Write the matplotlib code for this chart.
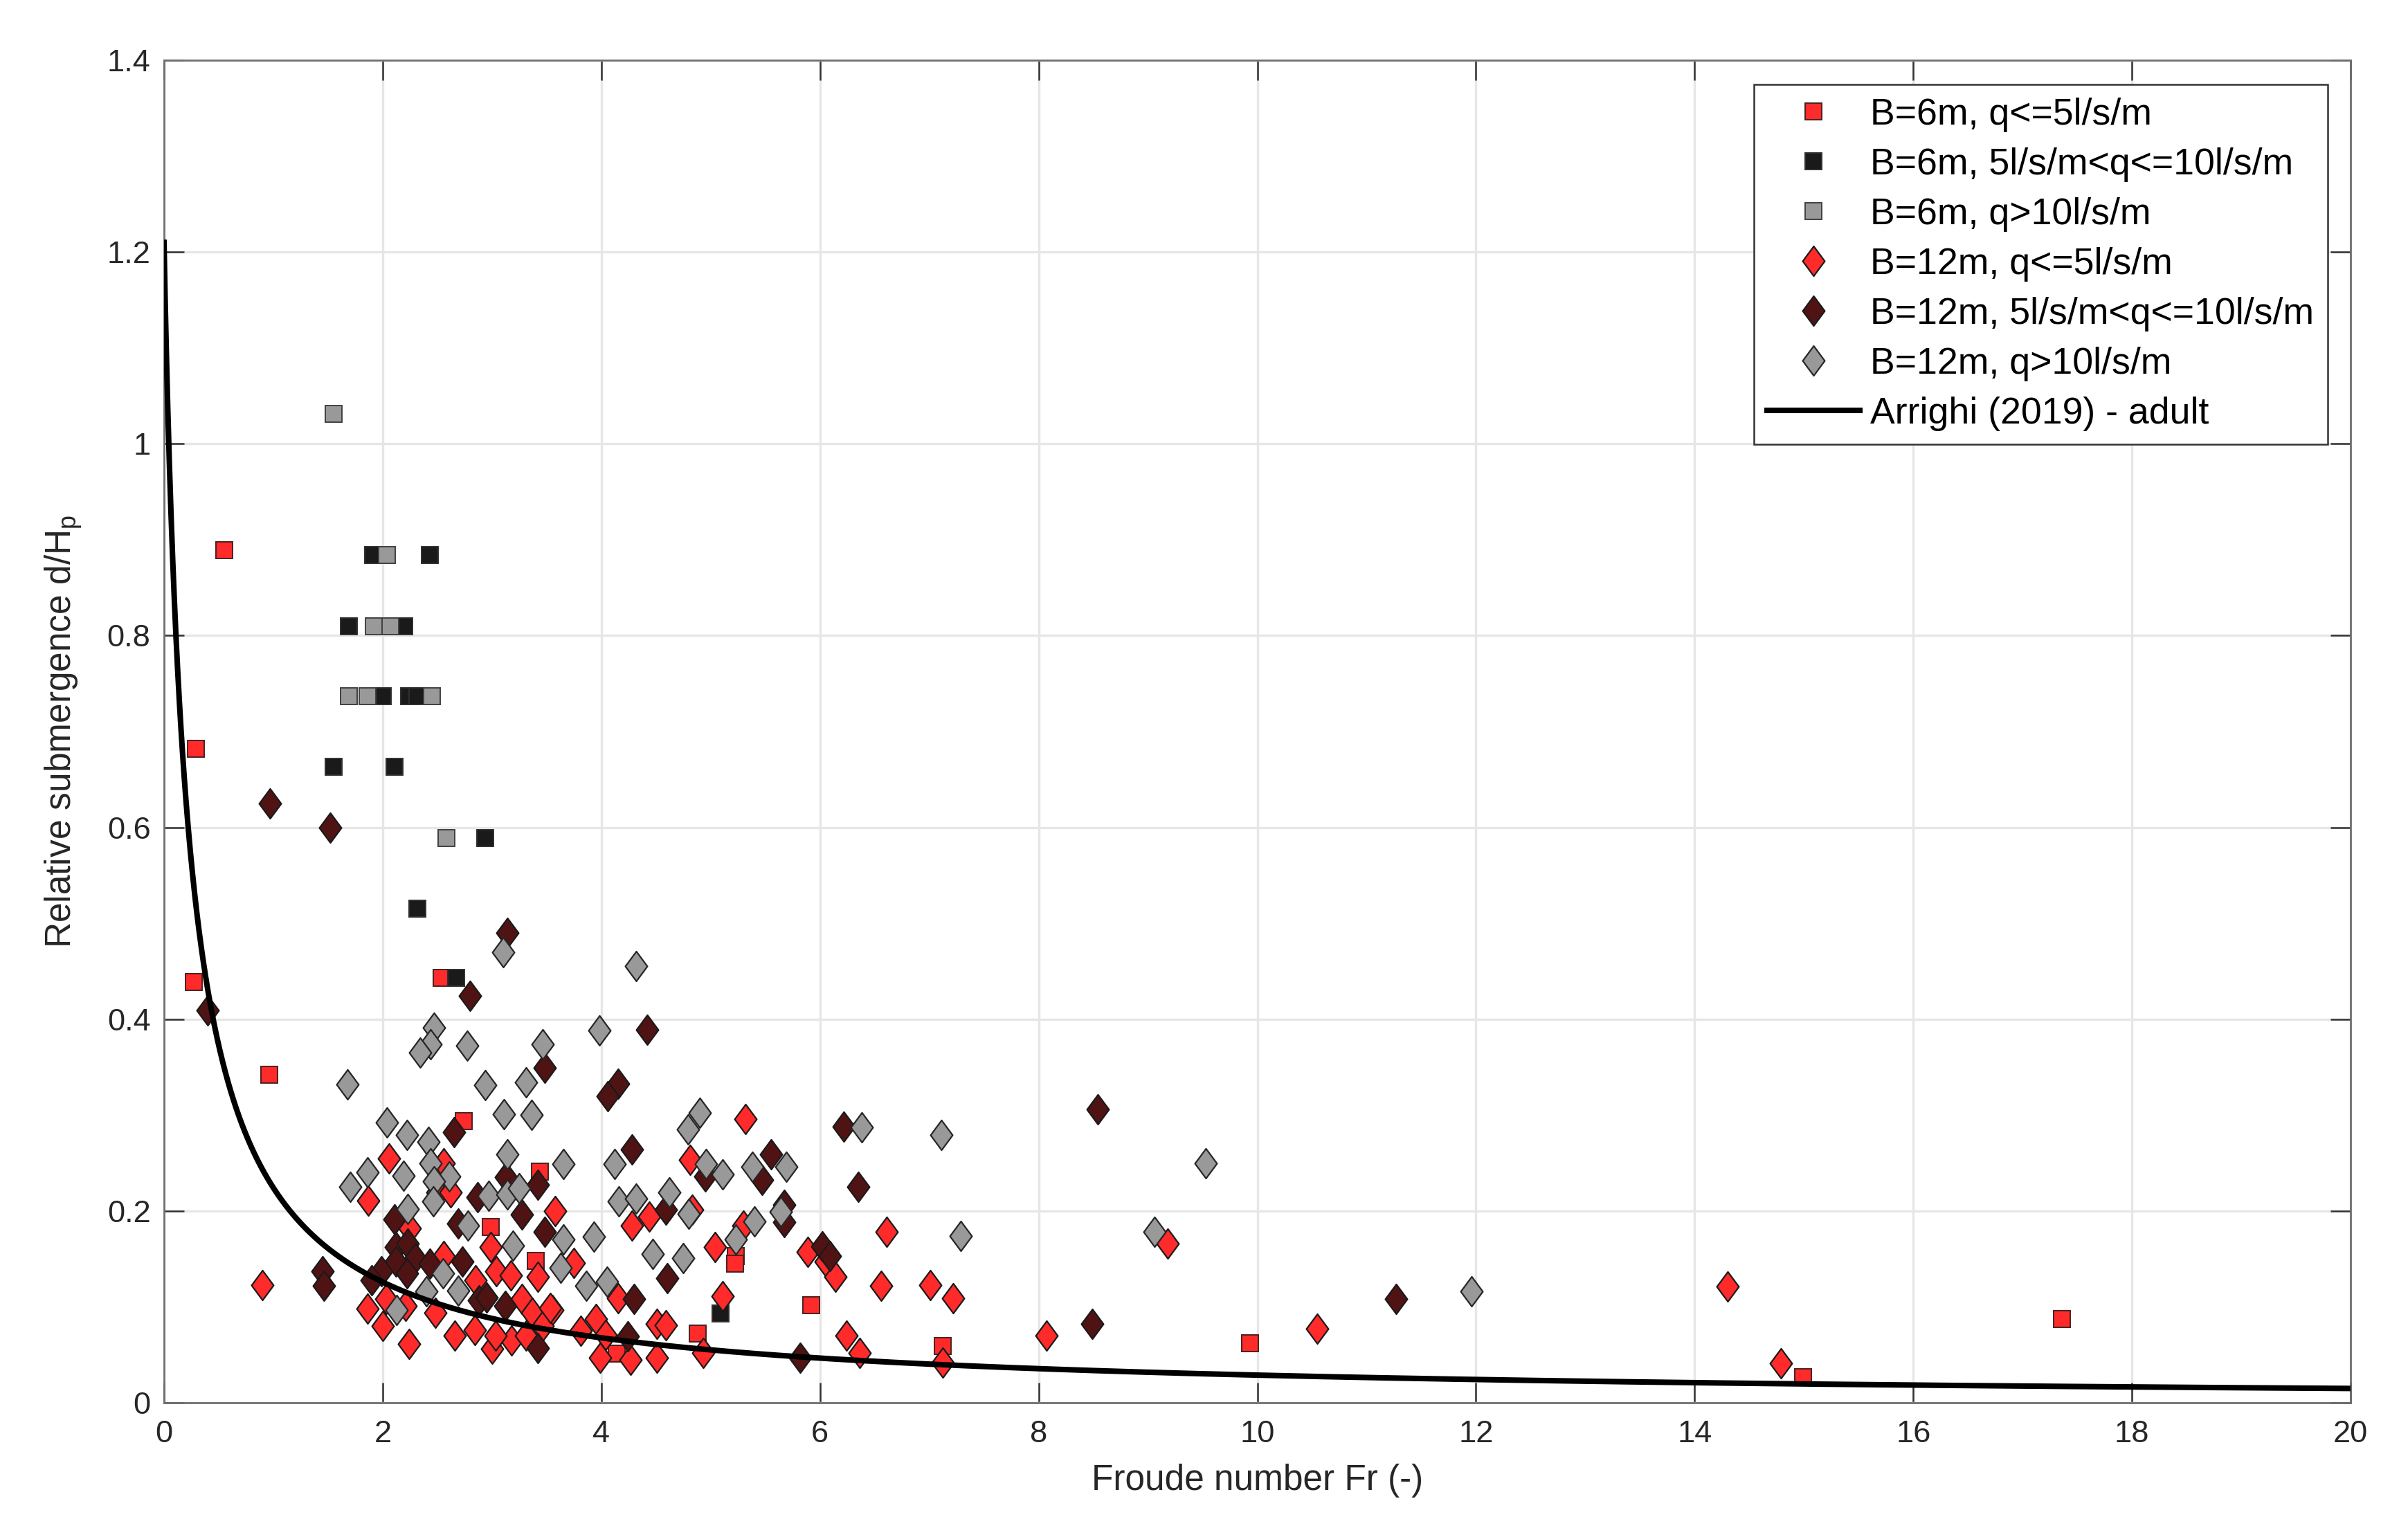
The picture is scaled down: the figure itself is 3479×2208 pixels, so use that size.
import numpy as np
import matplotlib
matplotlib.use('Agg')
import matplotlib.pyplot as plt
from matplotlib.path import Path

plt.rcParams['font.family'] = ['Liberation Sans', 'DejaVu Sans']
plt.rcParams['mathtext.default'] = 'regular'

# ---------------- data (Froude number, relative submergence) ----------------
b6_low_fr = [0.27, 0.29, 0.55, 0.96, 2.54, 2.74, 3.44, 2.99, 3.40, 5.23, 5.22, 4.14,
             4.88, 5.92, 7.12, 9.93, 14.99, 17.36]
b6_low_d = [0.439, 0.682, 0.889, 0.342, 0.443, 0.294, 0.241, 0.183, 0.148, 0.153, 0.145, 0.051,
            0.072, 0.102, 0.059, 0.062, 0.027, 0.087]

b6_mid_fr = [1.91, 2.43, 1.69, 2.20, 2.00, 2.24, 2.32, 1.55, 2.11, 2.94, 2.32, 2.67, 5.09]
b6_mid_d = [0.884, 0.884, 0.810, 0.810, 0.737, 0.737, 0.737, 0.663, 0.663, 0.589, 0.515, 0.443, 0.093]

b6_high_fr = [1.55, 2.04, 1.92, 2.07, 1.69, 1.86, 2.45, 2.58]
b6_high_d = [1.031, 0.884, 0.810, 0.810, 0.737, 0.737, 0.737, 0.589]

b12_low_fr = [0.90, 1.87, 2.06, 2.56, 2.50, 2.62, 2.25, 2.56, 2.85, 2.03, 1.86, 2.21, 2.48,
              2.00, 2.24, 2.66, 2.84, 3.27, 3.37, 3.00, 3.18, 3.03, 3.31, 2.99, 3.04, 3.17,
              3.42, 3.58, 4.28, 4.44, 4.83, 5.30, 4.81, 5.32, 3.75, 3.55, 4.15, 5.04, 5.11,
              3.81, 3.95, 4.04, 4.51, 4.59, 3.99, 4.27, 4.51, 4.93, 3.46, 3.53, 6.61, 5.89,
              6.05, 6.14, 6.56, 7.01, 7.22, 6.24, 6.36, 7.12, 8.07, 9.18, 10.55, 14.30, 14.79]
b12_low_d = [0.123, 0.211, 0.255, 0.250, 0.219, 0.219, 0.182, 0.153, 0.128, 0.108, 0.098, 0.101, 0.094,
             0.080, 0.061, 0.070, 0.076, 0.108, 0.094, 0.056, 0.065, 0.070, 0.070, 0.162, 0.137, 0.133,
             0.131, 0.200, 0.185, 0.194, 0.201, 0.185, 0.253, 0.296, 0.146, 0.097, 0.109, 0.162, 0.111,
             0.075, 0.087, 0.071, 0.082, 0.081, 0.047, 0.045, 0.047, 0.052, 0.080, 0.099, 0.178, 0.157,
             0.147, 0.131, 0.122, 0.123, 0.109, 0.070, 0.052, 0.042, 0.070, 0.166, 0.077, 0.121, 0.041]

b12_mid_fr = [0.40, 0.97, 1.52, 1.45, 1.46, 3.14, 2.80, 4.42, 3.48, 4.15, 4.06, 2.65, 4.28,
              3.42, 3.13, 2.87, 3.27, 2.11, 2.69, 3.48, 4.59, 4.95, 5.55, 5.47, 5.67, 5.67,
              2.12, 2.23, 2.30, 2.12, 2.22, 1.99, 1.90, 2.43, 2.73, 2.88, 2.95, 3.12, 3.42,
              4.60, 4.30, 4.24, 6.22, 6.35, 6.02, 6.09, 5.82, 8.49, 8.54, 11.27]
b12_mid_d = [0.409, 0.625, 0.600, 0.137, 0.122, 0.490, 0.424, 0.389, 0.349, 0.333, 0.320, 0.282, 0.264,
             0.227, 0.235, 0.214, 0.196, 0.191, 0.187, 0.178, 0.201, 0.236, 0.259, 0.232, 0.206, 0.188,
             0.162, 0.166, 0.151, 0.147, 0.135, 0.137, 0.128, 0.145, 0.147, 0.107, 0.110, 0.101, 0.057,
             0.130, 0.108, 0.069, 0.288, 0.225, 0.163, 0.153, 0.047, 0.082, 0.306, 0.108]

b12_high_fr = [1.68, 2.94, 3.31, 3.11, 3.36, 2.04, 2.22, 2.42, 3.14, 2.44, 1.86, 2.19, 1.70,
               2.61, 2.47, 2.46, 2.97, 3.14, 3.25, 2.23, 2.78, 3.10, 4.32, 2.47, 2.44, 2.34,
               2.77, 3.98, 3.46, 4.90, 4.79, 3.65, 4.12, 4.96, 5.11, 5.38, 5.69, 4.16, 4.32,
               4.62, 4.80, 5.40, 3.93, 4.47, 4.75, 5.23, 3.63, 3.86, 4.05, 2.55, 2.69, 2.40,
               2.13, 3.19, 3.65, 5.64, 6.38, 7.11, 7.29, 9.06, 9.53, 11.96]
b12_high_d = [0.332, 0.331, 0.334, 0.301, 0.300, 0.292, 0.279, 0.272, 0.259, 0.250, 0.240, 0.237, 0.225,
              0.236, 0.231, 0.210, 0.216, 0.217, 0.224, 0.202, 0.185, 0.470, 0.455, 0.391, 0.374, 0.365,
              0.372, 0.388, 0.374, 0.302, 0.285, 0.249, 0.249, 0.249, 0.238, 0.246, 0.246, 0.210, 0.213,
              0.219, 0.197, 0.189, 0.173, 0.155, 0.151, 0.170, 0.141, 0.122, 0.126, 0.135, 0.117, 0.116,
              0.097, 0.164, 0.170, 0.199, 0.287, 0.279, 0.174, 0.178, 0.250, 0.116]

# Arrighi (2019) adult stability curve: d/Hp = A / (1 + B * Fr**P)
curve_A = 1.21
curve_B = 4.4
curve_P = 0.97

labels = ['B=6m, q<=5l/s/m', 'B=6m, 5l/s/m<q<=10l/s/m', 'B=6m, q>10l/s/m',
          'B=12m, q<=5l/s/m', 'B=12m, 5l/s/m<q<=10l/s/m', 'B=12m, q>10l/s/m',
          'Arrighi (2019) - adult']
x_ticks = [0, 2, 4, 6, 8, 10, 12, 14, 16, 18, 20]
y_ticks = [0, 0.2, 0.4, 0.6, 0.8, 1.0, 1.2, 1.4]
y_ticklabels = ['0', '0.2', '0.4', '0.6', '0.8', '1', '1.2', '1.4']

# ---------------- styling ----------------
RED = '#FF2B2B'
MAROON = '#501313'
GRAY = '#999999'
BLACK = '#1A1A1A'

diamond = Path([(0, 1), (0.74, 0), (0, -1), (-0.74, 0), (0, 1)],
               [Path.MOVETO, Path.LINETO, Path.LINETO, Path.LINETO, Path.CLOSEPOLY])
SQ_MS = 8.4
DI_MS = 15.5

fig = plt.figure(figsize=(17.4, 11.04), dpi=200)
ax = fig.add_axes([0.0681, 0.0820, 0.9078, 0.8786])

ax.plot(b6_low_fr, b6_low_d, ls='none', marker='s', ms=SQ_MS, mfc=RED, mec='#4a2020', mew=0.7,
        label=labels[0], zorder=3)
ax.plot(b6_mid_fr, b6_mid_d, ls='none', marker='s', ms=SQ_MS, mfc=BLACK, mec='#303030', mew=0.7,
        label=labels[1], zorder=3)
ax.plot(b6_high_fr, b6_high_d, ls='none', marker='s', ms=SQ_MS, mfc=GRAY, mec='#404040', mew=0.7,
        label=labels[2], zorder=3)
ax.plot(b12_low_fr, b12_low_d, ls='none', marker=diamond, ms=DI_MS, mfc=RED, mec='#1a1a1a', mew=0.8,
        label=labels[3], zorder=3)
ax.plot(b12_mid_fr, b12_mid_d, ls='none', marker=diamond, ms=DI_MS, mfc=MAROON, mec='#1a1a1a', mew=0.8,
        label=labels[4], zorder=3)
ax.plot(b12_high_fr, b12_high_d, ls='none', marker=diamond, ms=DI_MS, mfc=GRAY, mec='#262626', mew=0.8,
        label=labels[5], zorder=3)

fr = np.linspace(0, 20, 4001)
ax.plot(fr, curve_A / (1 + curve_B * fr ** curve_P), color='black', lw=2.9, label=labels[6], zorder=4)

ax.set_xlim(0, 20)
ax.set_ylim(0, 1.4)
ax.set_xticks(x_ticks)
ax.set_yticks(y_ticks)
ax.set_yticklabels(y_ticklabels)
ax.grid(True, color='#e6e6e6', lw=1.2, zorder=0)
ax.set_axisbelow(True)

for s in ax.spines.values():
    s.set_color('#707070')
    s.set_linewidth(1.0)
ax.tick_params(axis='both', which='major', direction='in', length=10.5, width=0.9,
               color='#333333', labelsize=16.3, labelcolor='#262626',
               top=True, right=True)
ax.tick_params(axis='x', pad=9)
ax.tick_params(axis='y', pad=7)

ax.set_xlabel('Froude number Fr (-)', fontsize=18.5, color='#262626', labelpad=8)
ax.set_ylabel('Relative submergence d/H$_p$', fontsize=18.5, color='#262626', labelpad=12)

leg = ax.legend(loc='upper left', bbox_to_anchor=(0.7271, 0.9820), borderaxespad=0,
                fontsize=19.3, labelspacing=0.41, handlelength=2.5, handletextpad=0.28,
                borderpad=0.36, fancybox=False, framealpha=1, edgecolor='#333333')
leg.get_frame().set_linewidth(0.9)

fig.savefig('out.png', dpi=200, facecolor='white')
